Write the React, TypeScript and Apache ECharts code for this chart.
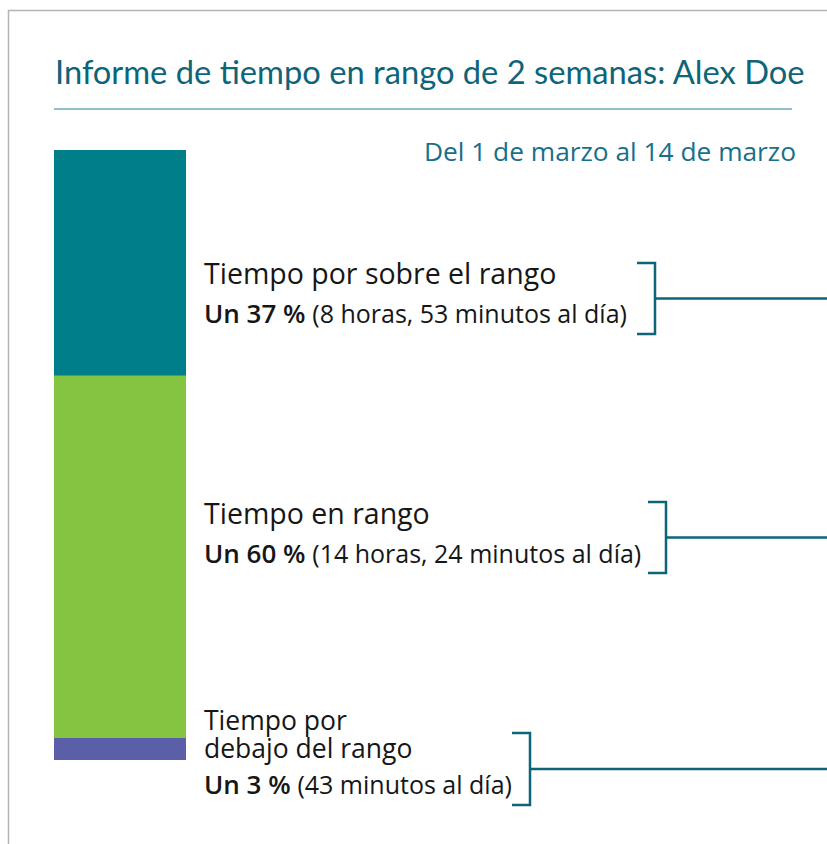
import React, { useEffect, useRef } from "react";
import * as echarts from "echarts";

const categories = ["Tiempo por debajo del rango", "Tiempo en rango", "Tiempo por sobre el rango"];
const minutesPerDay = [43, 864, 533];
const percents = [3, 60, 37];
const durations = ["43 minutos al día", "14 horas, 24 minutos al día", "8 horas, 53 minutos al día"];
const colors = ["#5a5fa8", "#84c441", "#007f8a"];
const title = "Informe de tiempo en rango de 2 semanas: Alex Doe";
const subtitle = "Del 1 de marzo al 14 de marzo";

const TEAL = "#0e6478";
const INK = "#161616";
const FONT = "'Open Sans', sans-serif";

export default function App() {
  const ref = useRef<HTMLDivElement>(null);
  useEffect(() => {
    const chart = echarts.init(ref.current!, null, { renderer: "svg" });
    const total = minutesPerDay.reduce((a, b) => a + b, 0);

    const series: any[] = categories.map((name, i) => ({
      name,
      type: "bar",
      stack: "tir",
      data: [minutesPerDay[i]],
      barWidth: 132,
      barMinHeight: i === 0 ? 22 : 0,
      z: i === 0 ? 3 : 2,
      itemStyle: { color: colors[i] },
      silent: true,
    }));

    const bracket = (xv: number, xl: number, yt: number, yb: number) => [
      {
        type: "polyline",
        shape: { points: [[xl, yt], [xv, yt], [xv, yb], [xl, yb]] },
        style: { stroke: TEAL, lineWidth: 2.5, fill: null },
      },
      {
        type: "line",
        shape: { x1: xv, y1: (yt + yb) / 2, x2: 840, y2: (yt + yb) / 2 },
        style: { stroke: TEAL, lineWidth: 2.5 },
      },
    ];

    const labelRich = {
      a: { fontFamily: FONT, fontSize: 26, fontWeight: 600, fill: INK },
      b: { fontFamily: FONT, fontSize: 25, fill: INK },
    };

    const head = (t: string, y: number, size = 28.5, lh = 28.5) => ({
      type: "text",
      x: 204,
      y,
      style: {
        text: t,
        fontFamily: FONT,
        fontSize: size,
        lineHeight: lh,
        fill: INK,
        verticalAlign: "middle",
        align: "left",
      },
    });
    const valueLine = (i: number, y: number) => ({
      type: "text",
      x: 204,
      y,
      style: {
        text: `{a|Un ${percents[i]} % }{b|(${durations[i]})}`,
        rich: labelRich,
        verticalAlign: "middle",
        align: "left",
      },
    });

    chart.setOption({
      animation: false,
      grid: { left: 54, top: 150, width: 132, height: 610, containLabel: false },
      xAxis: { type: "category", data: ["TIR"], show: false },
      yAxis: { type: "value", min: 0, max: total, show: false },
      series,
      graphic: [
        {
          type: "polyline",
          shape: { points: [[8.5, 900], [8.5, 10.5], [900, 10.5]] },
          style: { stroke: "#b4b4b4", lineWidth: 1.5, fill: null },
        },
        {
          type: "text",
          x: 55,
          y: 71.5,
          style: { text: title, fontFamily: "Lato, sans-serif", fontSize: 32.7, fill: TEAL, verticalAlign: "middle" },
        },
        {
          type: "line",
          shape: { x1: 54, y1: 109, x2: 792, y2: 109 },
          style: { stroke: "#6ea9b6", lineWidth: 1.5 },
        },
        {
          type: "text",
          x: 796,
          y: 151,
          style: { text: subtitle, fontFamily: FONT, fontSize: 26.3, fill: "#17708a", align: "right", verticalAlign: "middle" },
        },
        head(categories[2], 272.5),
        valueLine(2, 313),
        head(categories[1], 512.5),
        valueLine(1, 553),
        head("Tiempo por\ndebajo del rango", 734, 26.5, 28),
        valueLine(0, 784),
        ...bracket(655, 637, 263, 334),
        ...bracket(666, 648, 502, 573),
        ...bracket(530, 512, 733, 805),
      ],
    });
    return () => chart.dispose();
  }, []);
  return <div ref={ref} style={{ position: "fixed", left: 0, top: 0, width: 827, height: 844, background: "#fff" }} />;
}
